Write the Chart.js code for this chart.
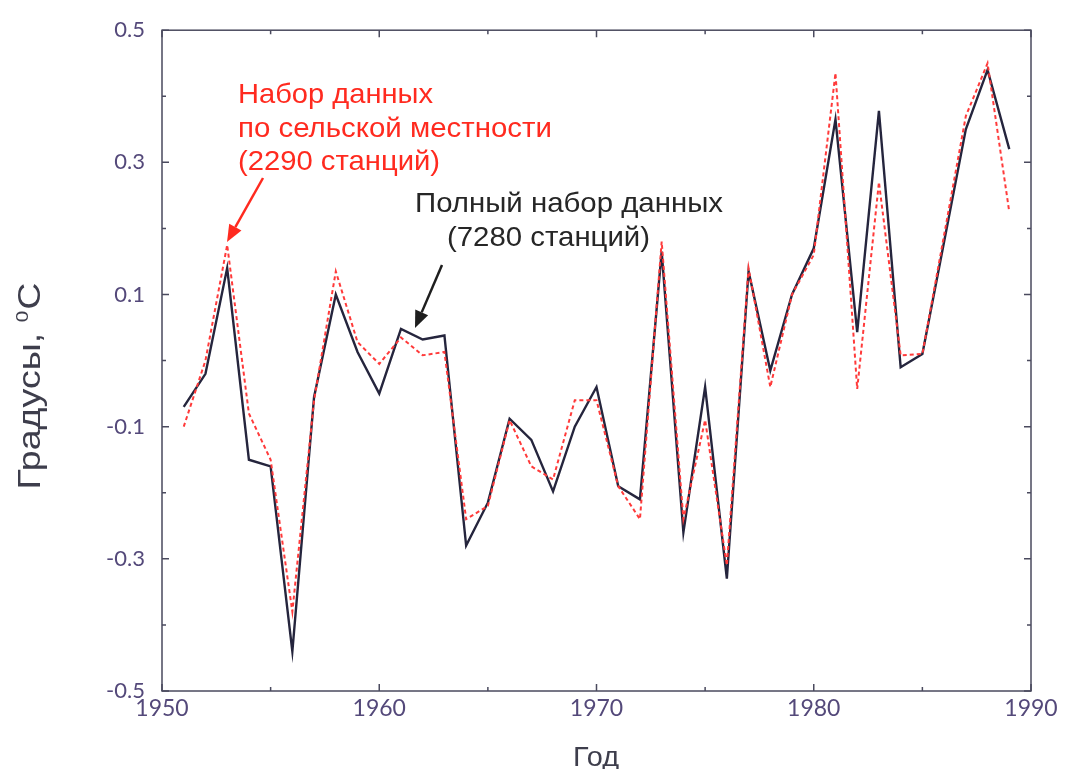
<!DOCTYPE html>
<html>
<head>
<meta charset="utf-8">
<script src="https://cdn.jsdelivr.net/npm/chart.js@4"></script>
<style>
  html, body { margin: 0; padding: 0; background: #fff; }
  #wrap { width: 1066px; height: 769px; position: relative; }
</style>
</head>
<body>
<div id="wrap"><canvas id="c" width="1066" height="769"></canvas></div>
<script>
// ---- data ----
const years = [1951,1952,1953,1954,1955,1956,1957,1958,1959,1960,
               1961,1962,1963,1964,1965,1966,1967,1968,1969,1970,
               1971,1972,1973,1974,1975,1976,1977,1978,1979,1980,
               1981,1982,1983,1984,1985,1986,1987,1988,1989];
const fullSet = [-0.07,-0.02,0.14,-0.15,-0.16,-0.44,-0.055,0.10,0.013,-0.05,
                 0.048,0.032,0.038,-0.28,-0.215,-0.088,-0.12,-0.198,-0.10,-0.04,
                 -0.19,-0.21,0.165,-0.26,-0.04,-0.33,0.135,-0.015,0.10,0.17,
                 0.365,0.043,0.378,-0.01,0.01,0.18,0.35,0.44,0.32];
const ruralSet = [-0.10,0.00,0.175,-0.08,-0.15,-0.38,-0.06,0.135,0.028,-0.005,
                  0.035,0.008,0.013,-0.24,-0.22,-0.09,-0.16,-0.18,-0.06,-0.06,
                  -0.19,-0.24,0.18,-0.24,-0.09,-0.31,0.14,-0.04,0.10,0.16,
                  0.435,-0.043,0.27,0.008,0.01,0.19,0.37,0.45,0.225];
const xTickValues = [1950,1960,1970,1980,1990];
const xMinorValues = [1955,1965,1975,1985];
const yTickValues = [-0.5,-0.3,-0.1,0.1,0.3,0.5];
const yMinorValues = [-0.4,-0.2,0,0.2,0.4];
const yTitle = ['Градусы, ', '0', 'C'];
const xTitle = 'Год';
const ruralNote = ['Набор данных', 'по сельской местности', '(2290 станций)'];
const fullNote = ['Полный набор данных', '(7280 станций)'];

const toPts = (vals) => years.map((y, i) => ({x: y, y: vals[i]}));

function fitText(ctx, text, x, y, width, align) {
  const w = ctx.measureText(text).width;
  const s = width / w;
  ctx.save();
  ctx.translate(x, y);
  ctx.scale(s, 1);
  ctx.textAlign = 'left';
  ctx.fillText(text, align === 'center' ? -w / 2 : 0, 0);
  ctx.restore();
}

function arrow(ctx, x1, y1, x2, y2, color) {
  const ang = Math.atan2(y2 - y1, x2 - x1);
  const hl = 17, hw = 7;
  const bx = x2 - hl * Math.cos(ang), by = y2 - hl * Math.sin(ang);
  ctx.save();
  ctx.strokeStyle = color; ctx.fillStyle = color; ctx.lineWidth = 2.5;
  ctx.beginPath(); ctx.moveTo(x1, y1); ctx.lineTo(bx, by); ctx.stroke();
  ctx.beginPath();
  ctx.moveTo(x2, y2);
  ctx.lineTo(bx + hw * Math.sin(ang), by - hw * Math.cos(ang));
  ctx.lineTo(bx - hw * Math.sin(ang), by + hw * Math.cos(ang));
  ctx.closePath(); ctx.fill();
  ctx.restore();
}

const framePlugin = {
  id: 'frame',
  afterDatasetsDraw(chart) {
    const {ctx, chartArea: a, scales: {x, y}} = chart;
    ctx.save();
    ctx.strokeStyle = '#4a4a5e';
    ctx.lineWidth = 1.5;
    ctx.strokeRect(a.left, a.top, a.right - a.left, a.bottom - a.top);
    ctx.beginPath();
    const xt = (v, len) => {
      const p = x.getPixelForValue(v);
      ctx.moveTo(p, a.bottom); ctx.lineTo(p, a.bottom - len);
      ctx.moveTo(p, a.top); ctx.lineTo(p, a.top + len);
    };
    const yt = (v, len) => {
      const p = y.getPixelForValue(v);
      ctx.moveTo(a.left, p); ctx.lineTo(a.left + len, p);
      ctx.moveTo(a.right, p); ctx.lineTo(a.right - len, p);
    };
    xTickValues.forEach(v => xt(v, 7));
    xMinorValues.forEach(v => xt(v, 4));
    yTickValues.forEach(v => yt(v, 7));
    yMinorValues.forEach(v => yt(v, 4));
    ctx.stroke();
    ctx.restore();
  },
  afterDraw(chart) {
    const ctx = chart.ctx;
    ctx.save();
    ctx.textBaseline = 'alphabetic';
    // axis titles
    ctx.fillStyle = '#3e3e4c';
    ctx.font = '27px "Liberation Sans", Arial, sans-serif';
    fitText(ctx, xTitle, 596, 766, 46, 'center');
    // y title rotated, composed of parts
    ctx.save();
    ctx.translate(40, 386);
    ctx.rotate(-Math.PI / 2);
    const big = '31px "Liberation Sans", Arial, sans-serif';
    const small = '17px "Liberation Sans", Arial, sans-serif';
    ctx.font = big; const w1 = ctx.measureText(yTitle[0]).width;
    ctx.font = small; const w2 = ctx.measureText(yTitle[1]).width;
    ctx.font = big; const w3 = ctx.measureText(yTitle[2]).width;
    const total = w1 + w2 + w3 + 1;
    const s = 207 / total;
    ctx.scale(s, 1);
    let cx = -total / 2;
    ctx.font = big; ctx.fillText(yTitle[0], cx, 0); cx += w1;
    ctx.font = small; ctx.fillText(yTitle[1], cx, -12); cx += w2 + 1;
    ctx.font = big; ctx.fillText(yTitle[2], cx, 0);
    ctx.restore();

    // annotations
    ctx.font = '28px "Liberation Sans", Arial, sans-serif';
    ctx.fillStyle = '#ff2a1f';
    fitText(ctx, ruralNote[0], 238, 103, 195, 'left');
    fitText(ctx, ruralNote[1], 238, 137, 314, 'left');
    fitText(ctx, ruralNote[2], 238, 170, 202, 'left');
    ctx.fillStyle = '#262626';
    fitText(ctx, fullNote[0], 415, 212, 308, 'left');
    fitText(ctx, fullNote[1], 447, 246, 203, 'left');
    arrow(ctx, 263, 178, 227, 242, '#ff2a1f');
    arrow(ctx, 442, 265, 415, 328, '#1e1e1e');
    ctx.restore();
  }
};

new Chart(document.getElementById('c'), {
  type: 'line',
  data: {
    datasets: [
      {
        label: 'Набор данных по сельской местности (2290 станций)',
        data: toPts(ruralSet),
        borderColor: '#ff3a3a',
        borderWidth: 2,
        borderDash: [4, 3],
        pointRadius: 0,
        tension: 0,
        order: 0
      },
      {
        label: 'Полный набор данных (7280 станций)',
        data: toPts(fullSet),
        borderColor: '#25253d',
        borderWidth: 2.4,
        pointRadius: 0,
        tension: 0,
        order: 1
      }
    ]
  },
  options: {
    responsive: false,
    animation: false,
    events: [],
    layout: { padding: { top: 27, right: 35, left: 0, bottom: 0 } },
    plugins: { legend: { display: false }, tooltip: { enabled: false }, title: { display: false } },
    scales: {
      x: {
        type: 'linear',
        min: 1950, max: 1990,
        grid: { display: false, drawTicks: false },
        border: { display: false },
        afterBuildTicks: (s) => { s.ticks = xTickValues.map(v => ({value: v})); },
        afterFit: (s) => { s.height = 78; },
        ticks: {
          padding: 4,
          color: '#54497a',
          font: { family: 'Lato, "Liberation Sans", sans-serif', size: 23 },
          callback: (v) => String(v)
        }
      },
      y: {
        min: -0.5, max: 0.5,
        grid: { display: false, drawTicks: false },
        border: { display: false },
        afterBuildTicks: (s) => { s.ticks = yTickValues.map(v => ({value: v})); },
        afterFit: (s) => { s.width = 162; },
        ticks: {
          padding: 17,
          color: '#54497a',
          font: { family: 'Lato, "Liberation Sans", sans-serif', size: 22 },
          callback: (v) => Number(v).toFixed(1)
        }
      }
    }
  },
  plugins: [framePlugin]
});
</script>
</body>
</html>
